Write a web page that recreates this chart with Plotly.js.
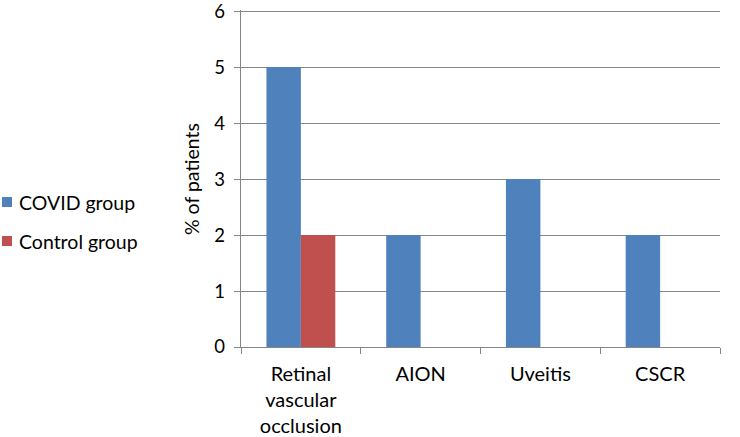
<!DOCTYPE html>
<html><head><meta charset="utf-8">
<script src="https://cdn.plot.ly/plotly-3.0.1.min.js"></script>
<style>html,body{margin:0;padding:0;background:#fff}#chart{width:740px;height:437px}</style>
</head><body><div id="chart"></div>
<script>
const categories = ["Retinal<br>vascular<br>occlusion", "AION", "Uveitis", "CSCR"];
const seriesNames = ["COVID group", "Control group"];
const covidValues = [5, 2, 3, 2];
const controlValues = [2, 0, 0, 0];
const colors = ["#4F81BD", "#C0504D"];
const yTickVals = [0, 1, 2, 3, 4, 5, 6];
const yTitle = "% of patients";

const W = 740, H = 437;
const m = {l: 225, r: 20, t: 10, b: 90};
const axisX = 241;
const pw = W - m.l - m.r, ph = H - m.t - m.b;
const px = x => (x - m.l) / pw;
const py = y => (H - m.b - y) / ph;
const FONT = "Lato, 'Open Sans', sans-serif";
const yRange = [0, 6.02];

const traces = [covidValues, controlValues].map((vals, i) => ({
  type: "bar", x: categories, y: vals, name: seriesNames[i],
  marker: {color: colors[i], line: {width: 0}}, showlegend: false,
  hoverinfo: "none"
}));
// invisible helper so the label-carrying overlay axis is drawn
traces.push({type: "scatter", mode: "none", x: categories, y: covidValues, yaxis: "y2",
  showlegend: false, hoverinfo: "none"});

const legendRows = [202, 241];
const shapes = legendRows.map((yc, i) => ({
  type: "rect", xref: "paper", yref: "paper",
  x0: px(2), x1: px(12), y0: py(yc + 5), y1: py(yc - 5),
  fillcolor: colors[i], line: {width: 0}
}));
const annotations = legendRows.map((yc, i) => ({
  xref: "paper", yref: "paper", x: px(17), y: py(yc), xanchor: "left", yanchor: "middle",
  text: seriesNames[i], showarrow: false, font: {family: FONT, size: 19.5, color: "#000"}
}));
annotations.push({
  xref: "paper", yref: "paper", x: px(191), y: py(179), xanchor: "center", yanchor: "middle",
  text: yTitle, textangle: -90, showarrow: false, font: {family: FONT, size: 19.5, color: "#000"}
});

const layout = {
  width: W, height: H, margin: m,
  paper_bgcolor: "#fff", plot_bgcolor: "rgba(0,0,0,0)",
  font: {family: FONT, size: 19, color: "#000"},
  barmode: "group", bargap: 0.425, bargroupgap: 0,
  showlegend: false,
  xaxis: {
    type: "category", domain: [px(axisX), 1], showline: true, linecolor: "#868686", linewidth: 1,
    ticks: "outside", tickson: "boundaries", ticklen: 6, tickcolor: "#868686",
    showgrid: false, tickfont: {family: FONT, size: 20}, ticklabelstandoff: 9,
    ticklabeloverflow: "allow"
  },
  yaxis: {
    range: yRange, tickvals: yTickVals, showticklabels: false,
    showline: true, linecolor: "#868686", linewidth: 1,
    ticks: "outside", ticklen: 6, tickcolor: "#868686",
    showgrid: true, gridcolor: "#868686", gridwidth: 1, zeroline: false
  },
  yaxis2: {
    range: yRange, tickvals: yTickVals, overlaying: "y", anchor: "free", position: 0, side: "left",
    showline: false, showgrid: false, zeroline: false, ticks: "",
    tickfont: {family: FONT, size: 18.5}, ticklabeloverflow: "allow"
  },
  shapes: shapes, annotations: annotations
};

Plotly.newPlot("chart", traces, layout, {staticPlot: true, displayModeBar: false});
</script></body></html>
